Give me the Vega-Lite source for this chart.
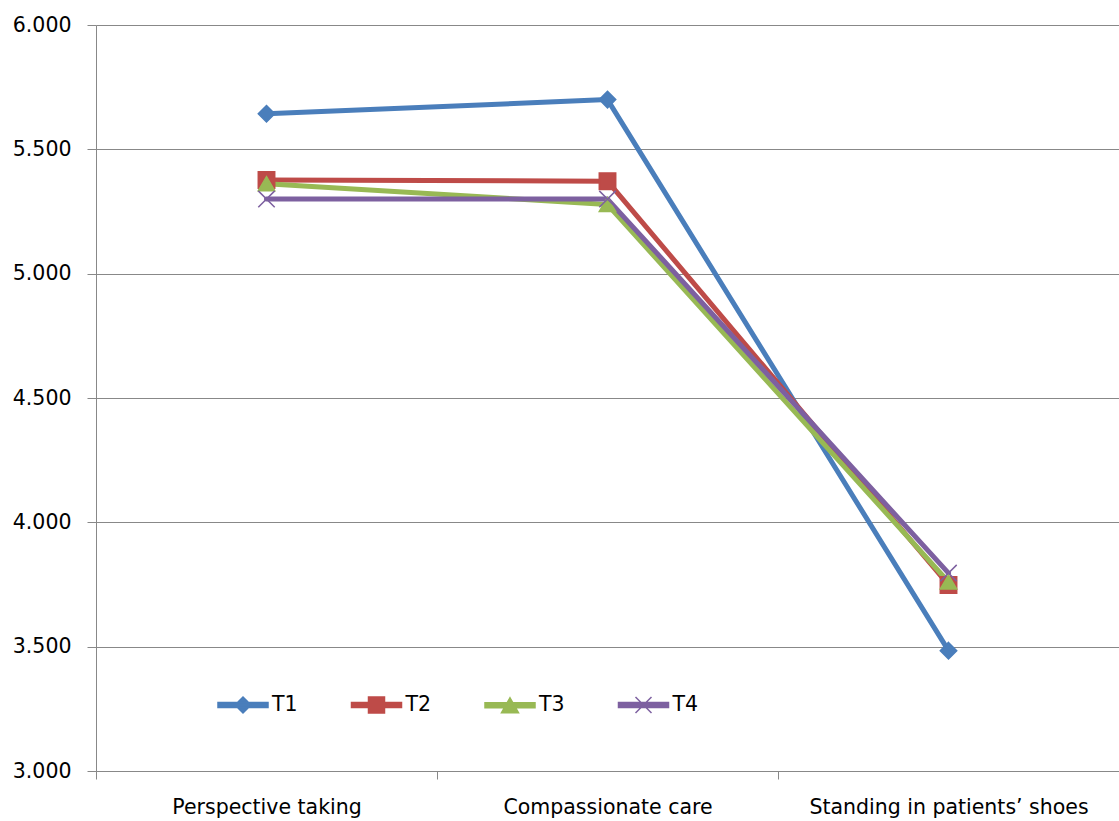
{
  "$schema": "https://vega.github.io/schema/vega-lite/v6.json",
  "width": 1023,
  "height": 746,
  "autosize": {"type": "none"},
  "padding": {"left": 96, "top": 25, "right": 0, "bottom": 50},
  "background": "white",
  "config": {
    "view": {"stroke": null},
    "font": "DejaVu Sans"
  },
  "data": {
    "values": [
      {"category": "Perspective taking", "series": "T1", "value": 5.643},
      {"category": "Compassionate care", "series": "T1", "value": 5.700},
      {"category": "Standing in patients’ shoes", "series": "T1", "value": 3.484},
      {"category": "Perspective taking", "series": "T2", "value": 5.377},
      {"category": "Compassionate care", "series": "T2", "value": 5.372},
      {"category": "Standing in patients’ shoes", "series": "T2", "value": 3.748},
      {"category": "Perspective taking", "series": "T3", "value": 5.362},
      {"category": "Compassionate care", "series": "T3", "value": 5.278},
      {"category": "Standing in patients’ shoes", "series": "T3", "value": 3.760},
      {"category": "Perspective taking", "series": "T4", "value": 5.300},
      {"category": "Compassionate care", "series": "T4", "value": 5.300},
      {"category": "Standing in patients’ shoes", "series": "T4", "value": 3.796}
    ]
  },
  "resolve": {"scale": {"shape": "independent"}, "legend": {"shape": "independent", "color": "independent", "stroke": "independent"}},
  "encoding": {
    "x": {
      "field": "category",
      "type": "nominal",
      "sort": null,
      "scale": {"type": "band", "paddingInner": 0, "paddingOuter": 0},
      "axis": {
        "title": null,
        "labelAngle": 0,
        "labelFontSize": 20.5,
        "labelLimit": 0,
        "labelColor": "#000000",
        "labelPadding": 18,
        "tickBand": "extent",
        "tickSize": 8,
        "tickColor": "#888888",
        "domainColor": "#888888",
        "grid": false
      }
    },
    "y": {
      "field": "value",
      "type": "quantitative",
      "scale": {"domain": [3, 6], "nice": false, "zero": false},
      "axis": {
        "title": null,
        "values": [3, 3.5, 4, 4.5, 5, 5.5, 6],
        "format": ".3f",
        "labelFontSize": 20.5,
        "labelColor": "#000000",
        "labelPadding": 16,
        "tickSize": 9,
        "tickColor": "#888888",
        "domainColor": "#888888",
        "gridColor": "#888888",
        "gridWidth": 1.2
      }
    }
  },
  "layer": [
    {
      "mark": {"type": "line", "strokeWidth": 5, "strokeCap": "round", "strokeJoin": "round"},
      "encoding": {
        "color": {
          "field": "series",
          "type": "nominal",
          "scale": {"domain": ["T1", "T2", "T3", "T4"], "range": ["#4A7EBB", "#BE4B48", "#98B954", "#7D60A0"]},
          "legend": {
            "title": null,
            "orient": "none",
            "direction": "horizontal",
            "legendX": 121,
            "legendY": 654,
            "padding": 0,
            "symbolSize": 2500,
            "labelFontSize": 20.5,
            "labelColor": "#000000",
            "labelOffset": 3,
            "columnPadding": 50.5,
            "encode": {
              "symbols": {
                "update": {
                  "shape": {"signal": "datum.value === 'T1' ? 'M-1,-0.1H1V0.1H-1Z M0,-0.32L0.32,0L0,0.32L-0.32,0Z' : datum.value === 'T2' ? 'M-1,-0.1H1V0.1H-1Z M-0.32,-0.32H0.32V0.32H-0.32Z' : datum.value === 'T3' ? 'M-1,-0.1H1V0.1H-1Z M0,-0.3L0.34,0.3H-0.34Z' : 'M-1,-0.1H1V0.1H-1Z M-0.32,-0.32L0.32,0.32M-0.32,0.32L0.32,-0.32'"},
                  "fill": {"signal": "datum.value === 'T1' ? '#4A7EBB' : datum.value === 'T2' ? '#BE4B48' : datum.value === 'T3' ? '#98B954' : '#7D60A0'"},
                  "stroke": {"signal": "datum.value === 'T1' ? '#4A7EBB' : datum.value === 'T2' ? '#BE4B48' : datum.value === 'T3' ? '#98B954' : '#7D60A0'"},
                  "strokeWidth": {"value": 1.5},
                  "opacity": {"value": 1}
                }
              }
            }
          }
        },
        "detail": {"field": "series"}
      }
    },
    {
      "mark": {"type": "point", "filled": true, "opacity": 1, "strokeWidth": 1.5},
      "encoding": {
        "color": {"field": "series", "type": "nominal", "legend": null},
        "stroke": {"field": "series", "type": "nominal", "scale": {"domain": ["T1", "T2", "T3", "T4"], "range": ["#4A7EBB", "#BE4B48", "#98B954", "#7D60A0"]}, "legend": null},
        "shape": {
          "field": "series",
          "type": "nominal",
          "scale": {
            "domain": ["T1", "T2", "T3", "T4"],
            "range": [
              "M0,-1L1,0L0,1L-1,0Z",
              "M-1,-1H1V1H-1Z",
              "M0,-0.85L1,0.85H-1Z",
              "M-1,-1L1,1M-1,1L1,-1"
            ]
          },
          "legend": null
        },
        "size": {"value": 270}
      }
    }
  ]
}
